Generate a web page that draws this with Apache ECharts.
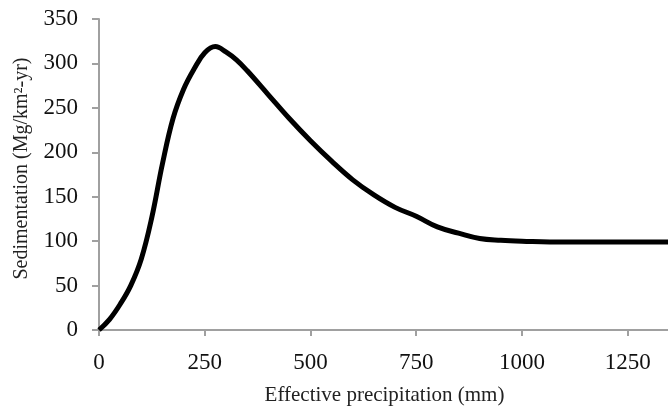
<!DOCTYPE html>
<html>
<head>
<meta charset="utf-8">
<script src="https://cdn.jsdelivr.net/npm/echarts@6/dist/echarts.min.js"></script>
<style>
html,body{margin:0;padding:0;background:#fff;}
#c{width:668px;height:407px;}
</style>
</head>
<body>
<div id="c"></div>
<script>
var precipitation = [0, 25, 50, 75, 100, 125, 150, 175, 200, 225, 250, 275, 300, 325, 350, 400, 450, 500, 550, 600, 650, 700, 750, 800, 850, 900, 950, 1000, 1100, 1200, 1350];
var sedimentation = [0, 12, 29, 50, 80, 127, 187, 238, 271, 294, 312, 319, 313, 304, 292, 265, 238, 213, 190, 169, 152, 138, 128, 116, 109, 103, 101, 100, 99, 99, 99];
var xTicks = [0, 250, 500, 750, 1000, 1250];

var points = precipitation.map(function (p, i) { return [p, sedimentation[i]]; });
var font = 'Liberation Serif';
var chart = echarts.init(document.getElementById('c'), null, {renderer: 'canvas'});
chart.setOption({
  animation: false,
  backgroundColor: '#ffffff',
  grid: {left: 99, top: 19, width: 571, height: 311, containLabel: false, outerBoundsMode: 'none'},
  xAxis: {
    type: 'value', min: 0, max: 1350, interval: 250,
    name: 'Effective precipitation (mm)', nameLocation: 'middle', nameGap: 55,
    nameTextStyle: {fontFamily: font, fontSize: 21, color: '#222'},
    axisLine: {lineStyle: {color: '#a0a0a0', width: 2}},
    axisTick: {show: true, length: 6, lineStyle: {color: '#a0a0a0', width: 2}},
    axisLabel: {
      fontFamily: font, fontSize: 23, color: '#111', margin: 21,
      formatter: function (v) { return xTicks.indexOf(v) >= 0 ? String(v) : ''; }
    },
    splitLine: {show: false}
  },
  yAxis: {
    type: 'value', min: 0, max: 350, interval: 50,
    name: 'Sedimentation (Mg/km²-yr)', nameLocation: 'middle', nameGap: 67,
    nameTextStyle: {fontFamily: font, fontSize: 20, color: '#222', padding: [0, 0, 0, 12]},
    axisLine: {show: true, lineStyle: {color: '#a0a0a0', width: 2}},
    axisTick: {show: true, length: 7, lineStyle: {color: '#a0a0a0', width: 2}},
    axisLabel: {fontFamily: font, fontSize: 23, color: '#111', margin: 21},
    splitLine: {show: false}
  },
  series: [{
    type: 'line', data: points, smooth: 0.4, showSymbol: false,
    lineStyle: {color: '#000', width: 5}
  }]
});
</script>
</body>
</html>
